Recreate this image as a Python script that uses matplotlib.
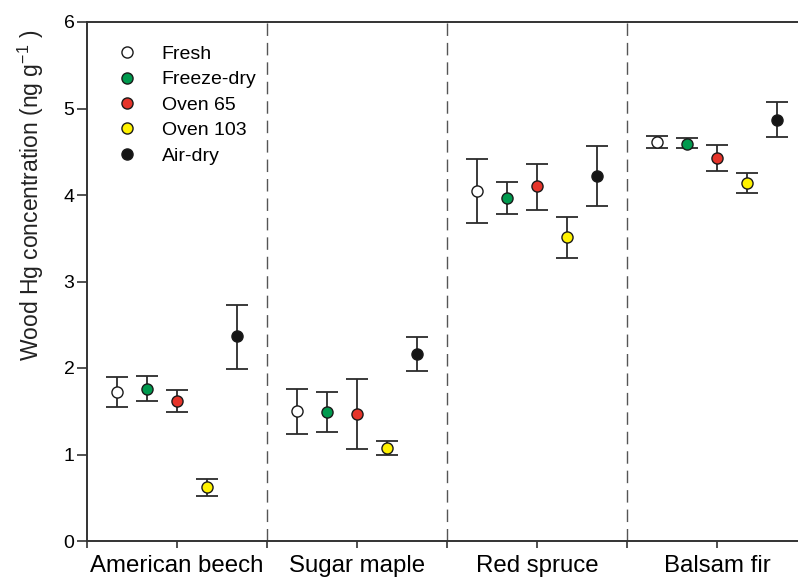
import matplotlib
matplotlib.use("Agg")
import matplotlib.pyplot as plt
from matplotlib.lines import Line2D
import numpy as np

plt.rcParams['font.family'] = ['Liberation Sans', 'DejaVu Sans']
plt.rcParams['mathtext.default'] = 'regular'

species = ["American beech", "Sugar maple", "Red spruce", "Balsam fir"]
treatments = ["Fresh", "Freeze-dry", "Oven 65", "Oven 103", "Air-dry"]
colors = ["#ffffff", "#009a4e", "#e5342a", "#fff200", "#151515"]

# mean values per treatment (rows) for each species (columns)
means = {
    "Fresh":      [1.72, 1.50, 4.05, 4.61],
    "Freeze-dry": [1.76, 1.49, 3.97, 4.59],
    "Oven 65":    [1.62, 1.47, 4.10, 4.43],
    "Oven 103":   [0.62, 1.08, 3.51, 4.14],
    "Air-dry":    [2.37, 2.16, 4.22, 4.87],
}
upper = {
    "Fresh":      [1.90, 1.76, 4.42, 4.68],
    "Freeze-dry": [1.91, 1.72, 4.15, 4.66],
    "Oven 65":    [1.75, 1.87, 4.36, 4.58],
    "Oven 103":   [0.72, 1.16, 3.74, 4.26],
    "Air-dry":    [2.73, 2.36, 4.57, 5.08],
}
lower = {
    "Fresh":      [1.55, 1.24, 3.68, 4.54],
    "Freeze-dry": [1.62, 1.26, 3.78, 4.54],
    "Oven 65":    [1.49, 1.06, 3.83, 4.28],
    "Oven 103":   [0.52, 1.00, 3.27, 4.02],
    "Air-dry":    [1.99, 1.97, 3.87, 4.67],
}

W, H = 798, 577
fig = plt.figure(figsize=(W / 100, H / 100), dpi=100)
ax_left, ax_right, ax_top, ax_bot = 87, 807, 22, 541
ax = fig.add_axes([ax_left / W, 1 - ax_bot / H, (ax_right - ax_left) / W, (ax_bot - ax_top) / H])

centers = np.array([1, 3, 5, 7])
offsets = np.array([-2, -1, 0, 1, 2]) / 3.0

for i, t in enumerate(treatments):
    m = np.array(means[t])
    lo = m - np.array(lower[t])
    hi = np.array(upper[t]) - m
    x = centers + offsets[i]
    ax.errorbar(x, m, yerr=[lo, hi], fmt='none', ecolor='#2b2b2b',
                elinewidth=1.3, capsize=8, capthick=1.3, zorder=2)
    ax.plot(x, m, 'o', markersize=8, markerfacecolor=colors[i],
            markeredgecolor='#1a1a1a', markeredgewidth=1.0, zorder=3, linestyle='none')

for xb in [2, 4, 6]:
    ax.axvline(xb, color='#555555', linewidth=1.0, linestyle=(0, (9, 5)), zorder=1)

ax.set_xlim(0, 8)
ax.set_ylim(0, 6)
ax.set_xticks(np.arange(0, 9))
ax.set_xticklabels(["", species[0], "", species[1], "", species[2], "", species[3], ""])
ax.set_yticks(np.arange(0, 7))
ax.tick_params(axis='x', direction='out', length=5, width=1.2, color='#333333',
               labelsize=17.3, pad=5)
ax.tick_params(axis='y', direction='out', length=7, width=1.2, color='#333333',
               labelsize=14, pad=2)
for s in ['left', 'bottom', 'top']:
    ax.spines[s].set_linewidth(1.4)
    ax.spines[s].set_color('#333333')
ax.spines['right'].set_visible(False)

fig.text(31 / W, 1 - 195 / H, 'Wood Hg concentration (ng g$^{-1}$ )', rotation=90,
         ha='center', va='center', fontsize=16.5, color='#222222')

handles = [Line2D([], [], marker='o', linestyle='none', markersize=8,
                  markerfacecolor=c, markeredgecolor='#1a1a1a', markeredgewidth=1.0)
           for c in colors]
leg = ax.legend(handles, treatments, loc='upper left', bbox_to_anchor=(0.031, 0.97),
                frameon=False, fontsize=14, handlelength=1.0, handletextpad=1.3,
                labelspacing=0.4, borderaxespad=0)

fig.savefig("out.png", dpi=100)
